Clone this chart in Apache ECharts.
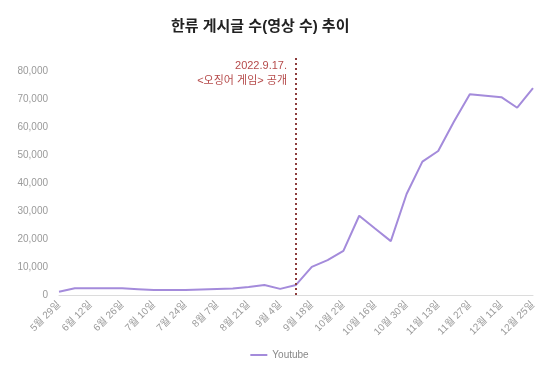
<!DOCTYPE html>
<html><head><meta charset="utf-8">
<script src="https://cdn.jsdelivr.net/npm/echarts@6/dist/echarts.min.js"></script>
<style>html,body{margin:0;padding:0;background:#fff}#c{width:559px;height:383px}</style>
</head><body><div id="c"></div>
<script>
const categories = ['5월 29일','6월 5일','6월 12일','6월 19일','6월 26일','7월 3일','7월 10일','7월 17일','7월 24일','7월 31일','8월 7일','8월 14일','8월 21일','8월 28일','9월 4일','9월 11일','9월 18일','9월 25일','10월 2일','10월 9일','10월 16일','10월 23일','10월 30일','11월 6일','11월 13일','11월 20일','11월 27일','12월 4일','12월 11일','12월 18일','12월 25일'];
const youtube = [1200,2400,2400,2400,2400,2100,1800,1800,1800,2000,2150,2300,2900,3600,2200,3600,10100,12500,15800,28400,23800,19300,36200,47800,51600,62200,71900,71400,70900,67100,74100];
const yTicks = [0,10000,20000,30000,40000,50000,60000,70000,80000];
const releaseIndex = 15;
const titleText = '한류 게시글 수(영상 수) 추이';
const noteText = '2022.9.17.\n<오징어 게임> 공개';

const FONT = '"Liberation Sans", "Noto Sans CJK KR", sans-serif';
const chart = echarts.init(document.getElementById('c'), null, {renderer:'canvas'});
chart.setOption({
  animation: false,
  textStyle: {fontFamily: FONT},
  title: {
    text: titleText, left: 166, top: 14,
    textStyle: {fontSize: 15, fontWeight: 'bold', color: '#222', fontFamily: FONT}
  },
  legend: {
    data: ['Youtube'], left: 'center', top: 345, icon: 'rect',
    itemWidth: 17, itemHeight: 2,
    textStyle: {fontSize: 10, color: '#888', fontFamily: FONT}
  },
  grid: {left: 59, right: 26, top: 55, bottom: 88},
  xAxis: {
    type: 'category', data: categories, boundaryGap: false,
    axisLine: {lineStyle: {color: '#dcdcdc'}},
    axisTick: {show: false},
    axisLabel: {interval: 1, rotate: 45, fontSize: 10, color: '#9a9a9a', margin: 8, fontFamily: FONT}
  },
  yAxis: {
    type: 'value', min: 0, max: 86000, interval: 10000,
    splitLine: {show: false},
    axisLine: {show: false}, axisTick: {show: false},
    axisLabel: {
      fontSize: 10, color: '#9a9a9a', margin: 11, fontFamily: FONT,
      formatter: v => yTicks.indexOf(v) >= 0 ? v.toLocaleString('en-US') : ''
    }
  },
  series: [{
    name: 'Youtube', type: 'line', data: youtube,
    symbol: 'none', showSymbol: false,
    lineStyle: {color: '#a48bdb', width: 2},
    itemStyle: {color: '#a48bdb'},
    markLine: {
      silent: true, symbol: ['none','none'],
      label: {show: false},
      lineStyle: {type: [2,3], color: '#8b3b3b', width: 2},
      data: [{xAxis: categories[releaseIndex]}]
    },
    markPoint: {
      silent: true, symbol: 'circle', symbolSize: 0,
      data: [{coord: [categories[releaseIndex], 80000]}],
      label: {
        show: true, position: 'left', distance: 9, offset: [0, 2],
        formatter: noteText, color: '#b54a4a', fontSize: 11, lineHeight: 15,
        fontFamily: FONT
      }
    }
  }]
});
</script></body></html>
